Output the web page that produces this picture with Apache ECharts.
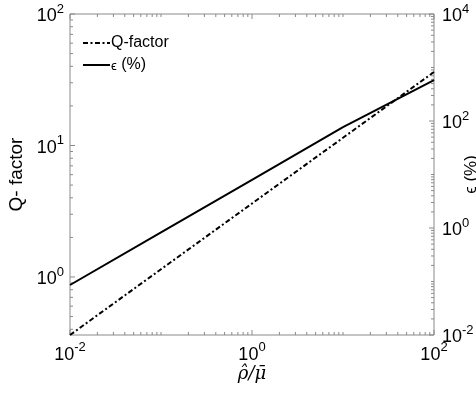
<!DOCTYPE html>
<html>
<head>
<meta charset="utf-8">
<script src="https://cdn.jsdelivr.net/npm/echarts@6/dist/echarts.min.js"></script>
<style>html,body{margin:0;padding:0;background:#fff}#c{width:476px;height:401px}</style>
</head>
<body>
<div id="c"></div>
<script>
// ---- data ----
const xValues = [0.01, 0.1, 1, 10, 100];
const qFactor = [0.362, 1.145, 3.62, 11.45, 36.2];
const epsilon = [0.086, 0.83, 7.9, 77, 580];
// labelled decades (exponents)
const xLabelExps = [-2, 0, 2];
const leftLabelExps = [0, 1, 2];
const rightLabelExps = [-2, 0, 2, 4];
const xRange = [0.01, 100];
const leftRange = [0.362, 100];
const rightRange = [0.01, 10000];

const FONT = 'Liberation Sans, Arial, sans-serif';
const AX = '#8a8a8a';

function expOf(v) { const e = Math.log10(v); const r = Math.round(e); return Math.abs(e - r) < 1e-6 ? r : null; }
function fmt(list) {
  return function (v) {
    const e = expOf(v);
    if (e === null || list.indexOf(e) < 0) return '';
    return '{b|10}{s|' + e + '}';
  };
}
const rich = {
  b: { fontSize: 18, fontFamily: FONT, color: '#000', verticalAlign: 'bottom', lineHeight: 23 },
  s: { fontSize: 13, fontFamily: FONT, color: '#000', verticalAlign: 'top', lineHeight: 23 }
};

function logTicks(lo, hi, majorExps) {
  const out = [];
  for (let k = Math.floor(Math.log10(lo)) ; k <= Math.ceil(Math.log10(hi)); k++) {
    for (let m = 1; m <= 9; m++) {
      const v = m * Math.pow(10, k);
      if (v < lo * 0.9999 || v > hi * 1.0001) continue;
      out.push({ v: v, major: m === 1 && majorExps.indexOf(k) >= 0 });
    }
  }
  return out;
}
const xTicks = logTicks(xRange[0], xRange[1], xLabelExps);
const leftTicks = logTicks(leftRange[0], leftRange[1], leftLabelExps);
const rightTicks = logTicks(rightRange[0], rightRange[1], rightLabelExps);

function ln(x1, y1, x2, y2) {
  return { type: 'line', shape: { x1: x1, y1: y1, x2: x2, y2: y2 }, style: { stroke: AX, lineWidth: 1 }, silent: true };
}
const MAJ = 5, MIN = 3;

const option = {
  animation: false,
  grid: { left: 70, right: 42, top: 14, bottom: 66, show: true, borderColor: AX, borderWidth: 1, backgroundColor: '#fff',
          containLabel: false, outerBoundsMode: 'none' },
  legend: {
    left: 82, top: 35, padding: 0, orient: 'vertical', itemWidth: 27, itemHeight: 14, itemGap: 6,
    itemStyle: { opacity: 0 },
    textStyle: { fontFamily: FONT, fontSize: 16, color: '#000', padding: [0, 0, 0, -4],
      rich: { e: { fontSize: 13, fontFamily: FONT, color: '#000', padding: [3, 0, 0, 0] }, t: { fontSize: 16, fontFamily: FONT, color: '#000' } } },
    data: ['Q-factor', 'eps'],
    formatter: function (n) { return n === 'eps' ? '{e|ϵ}{t| (%)}' : n; }
  },
  xAxis: {
    type: 'log', logBase: 10, min: xRange[0], max: xRange[1],
    name: 'ρ̂/μ̄', nameLocation: 'middle', nameGap: 30, nameMoveOverlap: false,
    nameTextStyle: { fontFamily: 'DejaVu Serif, serif', fontStyle: 'italic', fontSize: 18, color: '#000' },
    axisLine: { show: false }, axisTick: { show: false }, splitLine: { show: false }, minorTick: { show: false },
    axisLabel: { margin: 6, formatter: fmt(xLabelExps), rich: rich, showMinLabel: true, showMaxLabel: true }
  },
  yAxis: [{
    type: 'log', logBase: 10, min: leftRange[0], max: leftRange[1], position: 'left',
    name: 'Q- factor', nameLocation: 'middle', nameGap: 44, nameRotate: 90, nameMoveOverlap: false,
    nameTextStyle: { fontFamily: FONT, fontSize: 19, color: '#000' },
    axisLine: { show: false }, axisTick: { show: false }, splitLine: { show: false },
    axisLabel: { margin: 6, formatter: fmt(leftLabelExps), rich: rich }
  }, {
    type: 'log', logBase: 10, min: rightRange[0], max: rightRange[1], position: 'right',
    name: 'ϵ (%)', nameLocation: 'middle', nameGap: 29, nameRotate: 90, nameMoveOverlap: false,
    nameTextStyle: { fontFamily: FONT, fontSize: 17, color: '#000' },
    axisLine: { show: false }, axisTick: { show: false }, splitLine: { show: false },
    axisLabel: { margin: 8, formatter: fmt(rightLabelExps), rich: rich }
  }],
  series: [
    {
      name: 'Q-factor', type: 'line', yAxisIndex: 0, symbol: 'none', showSymbol: false,
      data: xValues.map((x, i) => [x, qFactor[i]]),
      lineStyle: { color: '#000', width: 2, type: [5, 2.5, 2, 2.5] }, itemStyle: { color: '#000' }, z: 3
    },
    {
      name: 'eps', type: 'line', yAxisIndex: 1, symbol: 'none', showSymbol: false,
      data: xValues.map((x, i) => [x, epsilon[i]]),
      lineStyle: { color: '#000', width: 2, type: 'solid' }, itemStyle: { color: '#000' }, z: 3
    },
    {
      type: 'custom', xAxisIndex: 0, yAxisIndex: 0, silent: true, clip: false, z: 1, data: [0],
      renderItem: function (params, api) {
        const cs = params.coordSys; const ch = [];
        const top = cs.y, bot = cs.y + cs.height, left = cs.x;
        xTicks.forEach(t => {
          const px = api.coord([t.v, leftRange[1]])[0];
          const L = t.major ? MAJ : MIN;
          ch.push(ln(px, bot, px, bot - L));
          ch.push(ln(px, top, px, top + L));
        });
        leftTicks.forEach(t => {
          const py = api.coord([xRange[0], t.v])[1];
          const L = t.major ? MAJ : MIN;
          ch.push(ln(left, py, left + L, py));
        });
        return { type: 'group', children: ch };
      }
    },
    {
      type: 'custom', xAxisIndex: 0, yAxisIndex: 1, silent: true, clip: false, z: 1, data: [0],
      renderItem: function (params, api) {
        const cs = params.coordSys; const ch = [];
        const right = cs.x + cs.width;
        rightTicks.forEach(t => {
          const py = api.coord([xRange[0], t.v])[1];
          const L = t.major ? MAJ : MIN;
          ch.push(ln(right, py, right - L, py));
        });
        return { type: 'group', children: ch };
      }
    }
  ]
};
const chart = echarts.init(document.getElementById('c'), null, { renderer: 'canvas' });
chart.setOption(option);
</script>
</body>
</html>
